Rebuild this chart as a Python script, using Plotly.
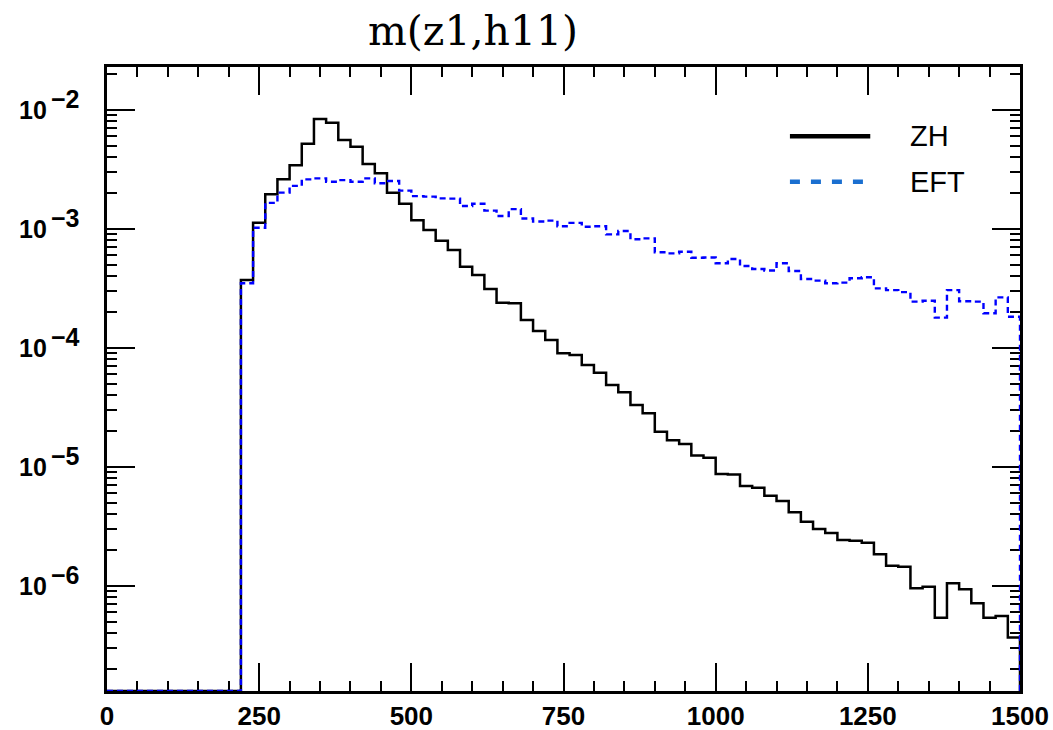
import numpy as np
import plotly.graph_objects as go

# Histogram binning: 20 GeV bins from 0 to 1500
bin_width = 20
x_max = 1500
bin_lo = list(range(0, x_max, bin_width))

# Empty bins below threshold (0 .. 200)
empty_bins = [0.0] * 11

# ZH distribution, bins starting at 220
zh_vals = empty_bins + [
    3.71e-4, 1.12e-3, 1.95e-3, 2.60e-3, 3.41e-3, 5.18e-3, 8.36e-3, 7.78e-3,
    5.56e-3, 4.89e-3, 3.50e-3, 2.92e-3, 2.01e-3, 1.62e-3, 1.18e-3,
    9.75e-4, 7.92e-4, 6.62e-4, 4.80e-4, 4.08e-4, 3.11e-4, 2.39e-4, 2.36e-4,
    1.71e-4, 1.38e-4, 1.16e-4, 8.97e-5, 8.69e-5, 7.16e-5, 6.17e-5,
    4.86e-5, 4.22e-5, 3.30e-5, 2.81e-5, 1.97e-5, 1.67e-5, 1.55e-5, 1.24e-5,
    1.19e-5, 8.69e-6, 8.60e-6, 6.89e-6, 6.67e-6, 5.70e-6, 5.15e-6,
    4.14e-6, 3.45e-6, 2.99e-6, 2.77e-6, 2.42e-6, 2.39e-6, 2.30e-6, 1.84e-6,
    1.47e-6, 1.44e-6, 9.51e-7, 9.81e-7, 5.38e-7, 1.05e-6, 9.33e-7,
    7.11e-7, 5.38e-7, 5.56e-7, 3.67e-7,
]

# EFT distribution, bins starting at 220
eft_vals = empty_bins + [
    3.48e-4, 1.02e-3, 1.65e-3, 2.01e-3, 2.29e-3, 2.60e-3, 2.65e-3, 2.48e-3,
    2.56e-3, 2.48e-3, 2.65e-3, 2.41e-3, 2.52e-3, 2.09e-3, 1.88e-3,
    1.86e-3, 1.80e-3, 1.79e-3, 1.55e-3, 1.62e-3, 1.42e-3, 1.28e-3, 1.46e-3,
    1.22e-3, 1.15e-3, 1.17e-3, 1.05e-3, 1.12e-3, 1.04e-3, 1.05e-3,
    8.97e-4, 9.57e-4, 8.15e-4, 8.30e-4, 6.34e-4, 6.21e-4, 6.41e-4, 5.70e-4,
    5.73e-4, 5.12e-4, 5.56e-4, 4.86e-4, 4.58e-4, 4.46e-4, 5.12e-4,
    4.41e-4, 3.78e-4, 3.66e-4, 3.48e-4, 3.52e-4, 3.83e-4, 3.91e-4, 3.15e-4,
    3.05e-4, 2.93e-4, 2.44e-4, 2.48e-4, 1.79e-4, 3.05e-4, 2.46e-4,
    2.44e-4, 1.95e-4, 2.65e-4, 1.82e-4,
]

# y-axis decades labelled as 10^-k
y_decades = [-6, -5, -4, -3, -2]
x_tick_vals = [0, 250, 500, 750, 1000, 1250, 1500]

# log10 range of the y axis
y_range = [-6.885, -1.641]
floor = 10 ** y_range[0]


def step_xy(vals):
    """Step outline of a histogram, dropping to the axis floor at the end."""
    v = np.maximum(np.asarray(vals, dtype=float), floor)
    xs = list(bin_lo) + [x_max, x_max]
    ys = list(v) + [v[-1], floor]
    return xs, ys


fig = go.Figure()

xs, ys = step_xy(zh_vals)
fig.add_trace(go.Scatter(x=xs, y=ys, mode="lines", line_shape="hv",
                         line=dict(color="black", width=2.5),
                         name="ZH", showlegend=False))

xs, ys = step_xy(eft_vals)
fig.add_trace(go.Scatter(x=xs, y=ys, mode="lines", line_shape="hv",
                         line=dict(color="#0000ff", width=2.4, dash="6px,4px"),
                         name="EFT", showlegend=False))

axis_common = dict(
    showline=True, linecolor="black", linewidth=2.5, mirror="ticks",
    ticks="inside", tickcolor="black", tickwidth=2,
    showgrid=False, zeroline=False, layer="below traces", automargin=False,
)

fig.update_xaxes(
    range=[0, x_max], tickvals=x_tick_vals, ticklen=28,
    minor=dict(dtick=50, ticks="inside", ticklen=10, tickwidth=2,
               tickcolor="black", showgrid=False),
    tickfont=dict(family="Liberation Sans", size=26, color="black", weight="bold"),
    ticklabelstandoff=0,
    **axis_common,
)

fig.update_yaxes(
    type="log", range=y_range, tickvals=[10.0 ** k for k in y_decades],
    showticklabels=False, ticklen=28,
    minor=dict(dtick="D1", ticks="inside", ticklen=10, tickwidth=2,
               tickcolor="black", showgrid=False),
    **axis_common,
)

# Decade labels: mantissa "10" plus a raised, full-size exponent
label_font = dict(family="Liberation Sans", size=25, color="black", weight="bold")
for k in y_decades:
    fig.add_annotation(text="10", xref="paper", yref="y", x=-0.064, y=k,
                       xanchor="right", yanchor="middle", showarrow=False,
                       font=label_font)
    fig.add_annotation(text="−%d" % -k, xref="paper", yref="y", x=-0.064, y=k,
                       xanchor="left", yanchor="middle", yshift=11,
                       showarrow=False, font=label_font)

# Legend drawn as line samples with labels
legend_items = [("ZH", 0.889, dict(color="black", width=4.5, dash="solid")),
                ("EFT", 0.816, dict(color="#1a6fd0", width=4.5, dash="10px,11px"))]
for label, ypos, style in legend_items:
    fig.add_shape(type="line", xref="paper", yref="paper",
                  x0=0.748, x1=0.836, y0=ypos, y1=ypos, line=style)
    fig.add_annotation(text=label, xref="paper", yref="paper", x=0.877, y=ypos,
                       xanchor="left", yanchor="middle", showarrow=False,
                       font=dict(family="Liberation Sans", size=29, color="black"))

fig.update_layout(
    width=1053, height=730,
    margin=dict(l=107, r=33, t=67, b=39),
    paper_bgcolor="white", plot_bgcolor="white",
    title=dict(text="m(z1,h11)", x=473 / 1053, y=1 - 31 / 730,
               xanchor="center", yanchor="middle",
               font=dict(family="DejaVu Serif", size=41, color="black")),
    showlegend=False,
)

fig.write_html("out.html")
